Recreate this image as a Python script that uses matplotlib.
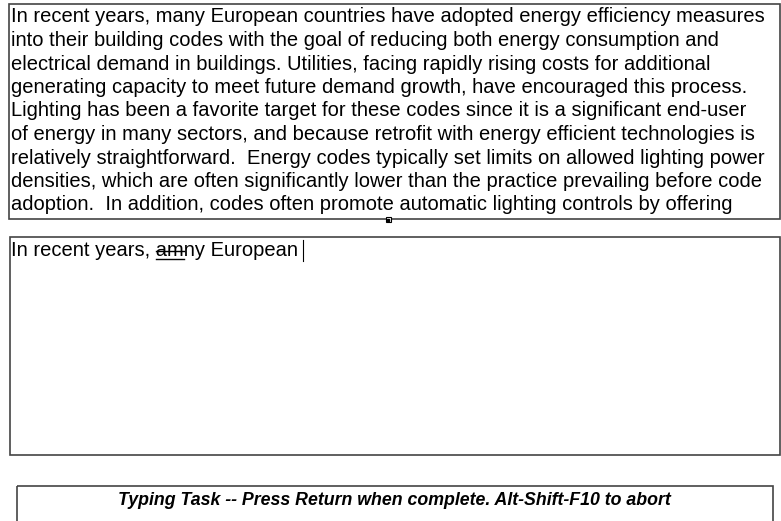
import matplotlib.pyplot as plt
from matplotlib.patches import Rectangle

# text shown in the three boxes
source_lines = [
    "In recent years, many European countries have adopted energy efficiency measures",
    "into their building codes with the goal of reducing both energy consumption and",
    "electrical demand in buildings. Utilities, facing rapidly rising costs for additional",
    "generating capacity to meet future demand growth, have encouraged this process.",
    "Lighting has been a favorite target for these codes since it is a significant end-user",
    "of energy in many sectors, and because retrofit with energy efficient technologies is",
    "relatively straightforward.  Energy codes typically set limits on allowed lighting power",
    "densities, which are often significantly lower than the practice prevailing before code",
    "adoption.  In addition, codes often promote automatic lighting controls by offering",
]
typed_before = "In recent years, "
typed_error = "am"
typed_after = "ny European"
marker_prefix = "adoption.  In addition, codes often promot"
status_text = "Typing Task -- Press Return when complete. Alt-Shift-F10 to abort"

fs = 14.5
font = "Liberation Sans"

fig = plt.figure(figsize=(7.81, 5.21), dpi=100)
ax = fig.add_axes([0, 0, 1, 1])
ax.set_xlim(0, 781)
ax.set_ylim(521, 0)
ax.axis("off")

# boxes
ax.add_patch(Rectangle((9, 4), 771, 215, fill=False, ec="#444444", lw=1.2))
ax.add_patch(Rectangle((10, 237), 770, 218, fill=False, ec="#444444", lw=1.2))
ax.add_patch(Rectangle((17, 486), 756, 40, fill=False, ec="#444444", lw=1.2))

# source passage
for i, line in enumerate(source_lines):
    ax.text(11, 22.5 + i * 23.5, line, fontsize=fs, family=font, va="baseline", ha="left")

fig.canvas.draw()
r = fig.canvas.get_renderer()

def width_px(s):
    t = ax.text(0, 0, s, fontsize=fs, family=font)
    bb = t.get_window_extent(renderer=r)
    t.remove()
    return bb.width

# small marker under the current position in the passage
mx = 11 + width_px(marker_prefix) + width_px("e") / 2
ax.add_patch(Rectangle((mx - 2.5, 217), 5, 5, fc="white", ec="black", lw=0.8, zorder=5))
ax.plot([mx], [219.5], marker="s", ms=1.5, color="black", zorder=6)

# typed text with the error highlighted
base_y = 256
ax.text(11, base_y, typed_before + typed_error + typed_after, fontsize=fs, family=font,
        va="baseline", ha="left")
x0 = 11 + width_px(typed_before)
x1 = 11 + width_px(typed_before + typed_error)
ax.plot([x0, x1], [base_y + 2.5, base_y + 2.5], color="black", lw=1)
ax.plot([x0, x1], [base_y - 5, base_y - 5], color="black", lw=1)
xc = 11 + width_px(typed_before + typed_error + typed_after) + 5
ax.plot([xc, xc], [240, 261], color="black", lw=0.8)

# status line
ax.text(394, 505, status_text, fontsize=12.8, family=font, weight="bold", style="italic",
        ha="center", va="baseline")

fig.savefig("out.png", dpi=100)
